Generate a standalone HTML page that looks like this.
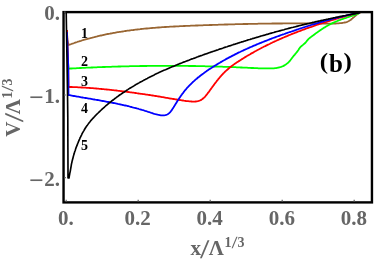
<!DOCTYPE html>
<html><head><meta charset="utf-8"><title>plot</title>
<style>html,body{margin:0;padding:0;background:#fff;}svg{display:block;will-change:transform;}</style>
</head><body>
<svg width="374" height="261" viewBox="0 0 374 261">
<rect x="0" y="0" width="374" height="261" fill="#ffffff"/>
<g fill="none" stroke-width="1.8" stroke-linejoin="round" stroke-linecap="butt">
<path d="M66.9,30.0 L67.4,40.0 L68.4,45.0 L68.5,45.0 L69.5,44.6 L70.4,44.3 L71.4,44.0 L72.3,43.6 L73.3,43.3 L74.2,43.0 L75.2,42.6 L76.1,42.3 L77.1,42.0 L78.0,41.7 L79.0,41.4 L79.9,41.1 L80.9,40.8 L81.8,40.5 L82.8,40.2 L83.7,39.9 L84.7,39.7 L85.6,39.4 L86.6,39.1 L87.6,38.8 L88.5,38.6 L89.5,38.3 L90.4,38.1 L91.4,37.8 L92.4,37.6 L93.3,37.3 L94.3,37.1 L95.3,36.8 L96.2,36.6 L97.2,36.4 L98.1,36.1 L99.1,35.9 L100.1,35.7 L101.0,35.5 L102.0,35.3 L103.0,35.0 L104.0,34.8 L104.9,34.6 L105.9,34.4 L106.9,34.2 L107.8,34.0 L108.8,33.8 L109.8,33.7 L110.8,33.5 L111.7,33.3 L112.7,33.1 L113.7,32.9 L114.7,32.8 L115.6,32.6 L116.6,32.4 L117.6,32.2 L118.6,32.1 L119.5,31.9 L120.5,31.8 L121.5,31.6 L122.5,31.5 L123.5,31.3 L124.4,31.2 L125.4,31.0 L126.4,30.9 L127.4,30.7 L128.4,30.6 L129.3,30.5 L130.3,30.3 L131.3,30.2 L132.3,30.1 L133.3,30.0 L134.3,29.8 L135.2,29.7 L136.2,29.6 L137.2,29.5 L138.2,29.4 L139.2,29.3 L140.2,29.2 L141.2,29.0 L142.2,28.9 L143.1,28.8 L144.1,28.7 L145.1,28.6 L146.1,28.5 L147.1,28.5 L148.1,28.4 L149.1,28.3 L150.1,28.2 L151.1,28.1 L152.0,28.0 L153.0,27.9 L154.0,27.8 L155.0,27.8 L156.0,27.7 L157.0,27.6 L158.0,27.5 L159.0,27.5 L160.0,27.4 L161.0,27.3 L162.0,27.2 L162.9,27.2 L163.9,27.1 L164.9,27.0 L165.9,27.0 L166.9,26.9 L167.9,26.9 L168.9,26.8 L169.9,26.7 L170.9,26.7 L171.9,26.6 L172.9,26.6 L173.9,26.5 L174.9,26.5 L175.9,26.4 L176.9,26.4 L177.9,26.3 L178.8,26.3 L179.8,26.2 L180.8,26.2 L181.8,26.1 L182.8,26.1 L183.8,26.0 L184.8,26.0 L185.8,25.9 L186.8,25.9 L187.8,25.9 L188.8,25.8 L189.8,25.8 L190.8,25.7 L191.8,25.7 L192.8,25.6 L193.8,25.6 L194.8,25.6 L195.8,25.5 L196.8,25.5 L197.7,25.5 L198.7,25.4 L199.7,25.4 L200.7,25.3 L201.7,25.3 L202.7,25.3 L203.7,25.2 L204.7,25.2 L205.7,25.2 L206.7,25.1 L207.7,25.1 L208.7,25.1 L209.7,25.0 L210.7,25.0 L211.7,25.0 L212.7,24.9 L213.6,24.9 L214.6,24.9 L215.6,24.8 L216.6,24.8 L217.6,24.8 L218.6,24.7 L219.6,24.7 L220.6,24.7 L221.6,24.6 L222.6,24.6 L223.6,24.6 L224.6,24.5 L225.6,24.5 L226.6,24.5 L227.5,24.5 L228.5,24.4 L229.5,24.4 L230.5,24.4 L231.5,24.3 L232.5,24.3 L233.5,24.3 L234.5,24.3 L235.5,24.2 L236.5,24.2 L237.5,24.2 L238.5,24.2 L239.5,24.1 L240.4,24.1 L241.4,24.1 L242.4,24.1 L243.4,24.0 L244.4,24.0 L245.4,24.0 L246.4,24.0 L247.4,24.0 L248.4,23.9 L249.4,23.9 L250.4,23.9 L251.4,23.9 L252.4,23.8 L253.3,23.8 L254.3,23.8 L255.3,23.8 L256.3,23.8 L257.3,23.8 L258.3,23.7 L259.3,23.7 L260.3,23.7 L261.3,23.7 L262.3,23.7 L263.3,23.7 L264.3,23.6 L265.3,23.6 L266.2,23.6 L267.2,23.6 L268.2,23.6 L269.2,23.6 L270.2,23.6 L271.2,23.6 L272.2,23.5 L273.2,23.5 L274.2,23.5 L275.2,23.5 L276.2,23.5 L277.2,23.5 L278.2,23.5 L279.1,23.5 L280.1,23.5 L281.1,23.5 L282.1,23.5 L283.1,23.4 L284.1,23.4 L285.1,23.4 L286.1,23.4 L287.1,23.4 L288.1,23.4 L289.1,23.4 L290.1,23.4 L291.1,23.4 L292.1,23.4 L293.1,23.4 L294.0,23.4 L295.0,23.4 L296.0,23.4 L297.0,23.4 L298.0,23.4 L299.0,23.4 L300.0,23.4 L301.0,23.4 L302.0,23.4 L303.0,23.4 L304.0,23.4 L305.0,23.5 L306.0,23.5 L307.0,23.5 L308.0,23.5 L309.0,23.5 L310.0,23.5 L311.0,23.5 L312.0,23.5 L313.0,23.5 L313.9,23.5 L314.9,23.5 L315.9,23.6 L316.9,23.6 L317.9,23.6 L318.9,23.6 L319.9,23.6 L320.9,23.6 L321.9,23.6 L322.9,23.7 L323.9,23.7 L324.9,23.7 L325.9,23.7 L326.9,23.7 L327.9,23.7 L328.9,23.7 L329.9,23.7 L330.9,23.7 L331.9,23.7 L332.9,23.6 L333.9,23.6 L334.9,23.6 L335.8,23.5 L336.8,23.4 L337.8,23.4 L338.8,23.3 L339.8,23.2 L340.8,23.1 L341.8,23.0 L342.8,22.8 L343.7,22.7 L344.7,22.5 L345.7,22.3 L346.6,22.1 L347.5,21.7 L348.4,21.3 L349.3,20.8 L350.1,20.3 L350.9,19.7 L351.7,19.0 L352.5,18.4 L353.2,17.7 L354.0,17.1 L354.7,16.4 L355.5,15.7 L356.2,15.1 L357.0,14.5 L357.8,13.9 L358.7,13.4 L359.6,13.0 L360.5,12.6" stroke="#996633"/>
<path d="M66.9,35.0 L67.6,55.0 L68.4,68.6 L68.6,68.7 L69.6,68.6 L70.7,68.5 L71.7,68.5 L72.7,68.4 L73.8,68.4 L74.8,68.3 L75.9,68.3 L76.9,68.2 L77.9,68.1 L79.0,68.1 L80.0,68.0 L81.0,68.0 L82.1,67.9 L83.1,67.9 L84.1,67.8 L85.2,67.8 L86.2,67.7 L87.3,67.7 L88.3,67.6 L89.3,67.6 L90.4,67.6 L91.4,67.5 L92.4,67.5 L93.5,67.4 L94.5,67.4 L95.6,67.3 L96.6,67.3 L97.6,67.2 L98.7,67.2 L99.7,67.2 L100.7,67.1 L101.8,67.1 L102.8,67.0 L103.9,67.0 L104.9,67.0 L105.9,66.9 L107.0,66.9 L108.0,66.9 L109.0,66.8 L110.1,66.8 L111.1,66.8 L112.1,66.7 L113.2,66.7 L114.2,66.7 L115.3,66.6 L116.3,66.6 L117.3,66.6 L118.4,66.5 L119.4,66.5 L120.4,66.5 L121.5,66.4 L122.5,66.4 L123.6,66.4 L124.6,66.4 L125.6,66.3 L126.7,66.3 L127.7,66.3 L128.8,66.3 L129.8,66.2 L130.8,66.2 L131.9,66.2 L132.9,66.2 L133.9,66.2 L135.0,66.1 L136.0,66.1 L137.1,66.1 L138.1,66.1 L139.1,66.1 L140.2,66.0 L141.2,66.0 L142.2,66.0 L143.3,66.0 L144.3,66.0 L145.4,66.0 L146.4,66.0 L147.4,65.9 L148.5,65.9 L149.5,65.9 L150.5,65.9 L151.6,65.9 L152.6,65.9 L153.7,65.9 L154.7,65.9 L155.7,65.9 L156.8,65.9 L157.8,65.8 L158.8,65.8 L159.9,65.8 L160.9,65.8 L162.0,65.8 L163.0,65.8 L164.0,65.8 L165.1,65.8 L166.1,65.8 L167.2,65.8 L168.2,65.8 L169.2,65.8 L170.3,65.8 L171.3,65.8 L172.3,65.8 L173.4,65.8 L174.4,65.8 L175.5,65.8 L176.5,65.8 L177.5,65.8 L178.6,65.9 L179.6,65.9 L180.6,65.9 L181.7,65.9 L182.7,65.9 L183.8,65.9 L184.8,65.9 L185.8,65.9 L186.9,65.9 L187.9,65.9 L188.9,66.0 L190.0,66.0 L191.0,66.0 L192.1,66.0 L193.1,66.0 L194.1,66.0 L195.2,66.0 L196.2,66.1 L197.2,66.1 L198.3,66.1 L199.3,66.1 L200.4,66.1 L201.4,66.2 L202.4,66.2 L203.5,66.2 L204.5,66.2 L205.5,66.3 L206.6,66.3 L207.6,66.3 L208.7,66.3 L209.7,66.4 L210.7,66.4 L211.8,66.4 L212.8,66.4 L213.8,66.5 L214.9,66.5 L215.9,66.5 L217.0,66.6 L218.0,66.6 L219.0,66.6 L220.1,66.7 L221.1,66.7 L222.1,66.7 L223.2,66.8 L224.2,66.8 L225.3,66.8 L226.3,66.9 L227.3,66.9 L228.4,66.9 L229.4,67.0 L230.4,67.0 L231.5,67.1 L232.5,67.1 L233.6,67.1 L234.6,67.2 L235.6,67.2 L236.7,67.3 L237.7,67.3 L238.7,67.4 L239.8,67.4 L240.8,67.5 L241.8,67.5 L242.9,67.6 L243.9,67.6 L245.0,67.6 L246.0,67.7 L247.0,67.7 L248.1,67.8 L249.1,67.9 L250.1,67.9 L251.2,68.0 L252.2,68.0 L253.2,68.0 L254.3,68.1 L255.3,68.1 L256.4,68.2 L257.4,68.2 L258.4,68.3 L259.5,68.3 L260.5,68.3 L261.5,68.3 L262.6,68.4 L263.6,68.4 L264.7,68.4 L265.7,68.4 L266.7,68.4 L267.8,68.4 L268.8,68.4 L269.9,68.4 L270.9,68.4 L271.9,68.4 L273.0,68.3 L274.0,68.3 L275.0,68.2 L276.1,68.1 L277.1,67.9 L278.1,67.7 L279.1,67.5 L280.1,67.2 L281.1,66.9 L282.1,66.5 L283.1,66.1 L284.0,65.6 L284.9,65.1 L285.8,64.5 L286.6,63.9 L287.4,63.3 L288.2,62.6 L288.9,61.9 L289.6,61.1 L290.3,60.3 L290.9,59.5 L291.5,58.7 L292.2,57.8 L292.8,57.0 L293.4,56.2 L294.1,55.4 L294.8,54.6 L295.4,53.8 L296.1,53.0 L296.8,52.2 L297.4,51.4 L298.0,50.5 L298.6,49.7 L299.1,48.8 L299.7,47.9 L300.4,47.1 L301.1,46.4 L301.9,45.7 L302.7,45.1 L303.5,44.4 L304.3,43.8 L305.1,43.0 L305.8,42.3 L306.4,41.5 L307.1,40.7 L307.7,39.9 L308.4,39.1 L309.2,38.4 L310.0,37.7 L310.8,37.1 L311.6,36.5 L312.4,35.9 L313.3,35.3 L314.1,34.7 L315.0,34.0 L315.8,33.4 L316.6,32.8 L317.5,32.2 L318.3,31.6 L319.2,31.0 L320.0,30.4 L320.9,29.9 L321.7,29.3 L322.6,28.7 L323.5,28.1 L324.3,27.6 L325.2,27.1 L326.1,26.5 L327.0,26.0 L327.9,25.5 L328.8,25.0 L329.8,24.5 L330.7,24.0 L331.6,23.6 L332.5,23.1 L333.5,22.6 L334.4,22.2 L335.4,21.8 L336.3,21.4 L337.3,21.0 L338.2,20.6 L339.2,20.2 L340.2,19.9 L341.1,19.5 L342.1,19.1 L343.1,18.8 L344.1,18.5 L345.1,18.1 L346.1,17.8 L347.0,17.5 L348.0,17.1 L349.0,16.8 L350.0,16.5 L351.0,16.1 L352.0,15.8 L352.9,15.5 L353.9,15.1 L354.9,14.8 L355.9,14.4 L356.8,14.0 L357.8,13.6 L358.8,13.2 L359.7,12.8" stroke="#00ff00"/>
<path d="M66.9,30.0 L67.5,45.0 L68.2,66.0 L68.5,86.9 L68.6,86.9 L69.7,87.0 L70.7,87.0 L71.8,87.0 L72.8,87.1 L73.9,87.1 L75.0,87.1 L76.0,87.2 L77.1,87.2 L78.1,87.3 L79.2,87.3 L80.2,87.4 L81.3,87.5 L82.4,87.5 L83.4,87.6 L84.5,87.6 L85.5,87.7 L86.6,87.8 L87.7,87.9 L88.7,87.9 L89.8,88.0 L90.9,88.1 L91.9,88.2 L93.0,88.2 L94.0,88.3 L95.1,88.4 L96.2,88.5 L97.2,88.6 L98.3,88.7 L99.4,88.8 L100.4,88.9 L101.5,89.0 L102.6,89.1 L103.6,89.2 L104.7,89.3 L105.8,89.4 L106.8,89.5 L107.9,89.6 L109.0,89.7 L110.0,89.8 L111.1,89.9 L112.1,90.1 L113.2,90.2 L114.3,90.3 L115.3,90.4 L116.4,90.5 L117.5,90.7 L118.5,90.8 L119.6,90.9 L120.7,91.1 L121.7,91.2 L122.8,91.3 L123.9,91.4 L124.9,91.6 L126.0,91.7 L127.1,91.9 L128.1,92.0 L129.2,92.1 L130.3,92.3 L131.3,92.4 L132.4,92.6 L133.5,92.7 L134.5,92.9 L135.6,93.0 L136.6,93.2 L137.7,93.3 L138.8,93.5 L139.8,93.6 L140.9,93.8 L141.9,93.9 L143.0,94.1 L144.1,94.2 L145.1,94.4 L146.2,94.6 L147.2,94.7 L148.3,94.9 L149.4,95.0 L150.4,95.2 L151.5,95.4 L152.5,95.5 L153.6,95.7 L154.6,95.9 L155.7,96.0 L156.7,96.2 L157.8,96.4 L158.8,96.5 L159.9,96.7 L160.9,96.9 L162.0,97.1 L163.0,97.2 L164.1,97.4 L165.1,97.6 L166.2,97.8 L167.2,97.9 L168.3,98.1 L169.3,98.3 L170.3,98.5 L171.4,98.6 L172.4,98.8 L173.5,99.0 L174.5,99.2 L175.5,99.4 L176.6,99.5 L177.6,99.7 L178.7,99.9 L179.7,100.0 L180.8,100.2 L181.8,100.4 L182.9,100.5 L183.9,100.7 L185.0,100.8 L186.0,101.0 L187.1,101.1 L188.2,101.2 L189.3,101.3 L190.4,101.4 L191.4,101.5 L192.5,101.6 L193.6,101.6 L194.7,101.6 L195.7,101.5 L196.8,101.4 L197.8,101.2 L198.8,100.9 L199.8,100.5 L200.7,100.1 L201.6,99.6 L202.5,99.0 L203.3,98.3 L204.1,97.6 L204.9,96.8 L205.6,96.0 L206.3,95.2 L206.9,94.3 L207.6,93.5 L208.2,92.6 L208.9,91.8 L209.5,90.9 L210.1,90.0 L210.8,89.2 L211.4,88.3 L212.0,87.5 L212.6,86.6 L213.3,85.7 L213.9,84.9 L214.5,84.0 L215.2,83.2 L215.8,82.3 L216.5,81.5 L217.1,80.6 L217.8,79.8 L218.5,78.9 L219.2,78.1 L219.8,77.3 L220.5,76.5 L221.3,75.7 L222.0,74.9 L222.7,74.1 L223.4,73.3 L224.2,72.6 L224.9,71.8 L225.7,71.1 L226.5,70.4 L227.3,69.7 L228.1,69.0 L228.9,68.3 L229.7,67.6 L230.5,67.0 L231.4,66.3 L232.2,65.7 L233.1,65.1 L234.0,64.4 L234.8,63.8 L235.7,63.2 L236.6,62.6 L237.5,62.0 L238.4,61.4 L239.3,60.9 L240.2,60.3 L241.1,59.7 L242.0,59.1 L242.9,58.6 L243.8,58.0 L244.7,57.4 L245.6,56.9 L246.5,56.3 L247.4,55.8 L248.4,55.2 L249.3,54.7 L250.2,54.2 L251.1,53.6 L252.0,53.1 L253.0,52.6 L253.9,52.1 L254.8,51.5 L255.8,51.0 L256.7,50.5 L257.6,50.0 L258.6,49.5 L259.5,49.0 L260.5,48.5 L261.4,48.0 L262.3,47.5 L263.3,47.0 L264.2,46.5 L265.2,46.1 L266.1,45.6 L267.1,45.1 L268.1,44.6 L269.0,44.2 L270.0,43.7 L270.9,43.2 L271.9,42.8 L272.9,42.3 L273.8,41.9 L274.8,41.4 L275.8,41.0 L276.7,40.5 L277.7,40.1 L278.7,39.7 L279.6,39.2 L280.6,38.8 L281.6,38.4 L282.6,37.9 L283.6,37.5 L284.5,37.1 L285.5,36.7 L286.5,36.3 L287.5,35.9 L288.5,35.4 L289.5,35.0 L290.5,34.6 L291.4,34.2 L292.4,33.8 L293.4,33.4 L294.4,33.1 L295.4,32.7 L296.4,32.3 L297.4,31.9 L298.4,31.5 L299.4,31.1 L300.4,30.8 L301.4,30.4 L302.4,30.0 L303.4,29.6 L304.4,29.3 L305.4,28.9 L306.4,28.5 L307.4,28.2 L308.4,27.8 L309.4,27.5 L310.4,27.1 L311.5,26.8 L312.5,26.4 L313.5,26.1 L314.5,25.7 L315.5,25.4 L316.5,25.0 L317.5,24.7 L318.5,24.4 L319.6,24.0 L320.6,23.7 L321.6,23.4 L322.6,23.0 L323.6,22.7 L324.6,22.4 L325.7,22.1 L326.7,21.8 L327.7,21.4 L328.7,21.1 L329.7,20.8 L330.8,20.5 L331.8,20.2 L332.8,19.9 L333.8,19.6 L334.8,19.3 L335.9,18.9 L336.9,18.6 L337.9,18.3 L338.9,18.0 L340.0,17.7 L341.0,17.5 L342.0,17.2 L343.0,16.9 L344.1,16.6 L345.1,16.3 L346.1,16.0 L347.1,15.7 L348.2,15.4 L349.2,15.1 L350.2,14.9 L351.2,14.6 L352.3,14.3 L353.3,14.0 L354.3,13.7 L355.3,13.5 L356.4,13.2 L357.4,12.9 L358.4,12.6 L359.4,12.4" stroke="#ff0000"/>
<path d="M66.9,32.0 L67.5,46.0 L68.3,67.0 L68.5,95.0 L68.6,95.1 L69.7,95.2 L70.7,95.4 L71.8,95.6 L72.9,95.8 L73.9,96.0 L75.0,96.2 L76.1,96.4 L77.1,96.6 L78.2,96.7 L79.3,96.9 L80.3,97.1 L81.4,97.3 L82.5,97.5 L83.5,97.7 L84.6,97.8 L85.7,98.0 L86.7,98.2 L87.8,98.4 L88.9,98.6 L90.0,98.7 L91.0,98.9 L92.1,99.1 L93.2,99.3 L94.2,99.5 L95.3,99.7 L96.4,99.8 L97.5,100.0 L98.5,100.2 L99.6,100.4 L100.7,100.6 L101.8,100.8 L102.8,101.0 L103.9,101.2 L105.0,101.4 L106.0,101.6 L107.1,101.8 L108.2,102.0 L109.3,102.2 L110.3,102.4 L111.4,102.6 L112.5,102.8 L113.5,103.0 L114.6,103.2 L115.7,103.4 L116.7,103.6 L117.8,103.9 L118.9,104.1 L119.9,104.3 L121.0,104.5 L122.1,104.8 L123.1,105.0 L124.2,105.3 L125.2,105.5 L126.3,105.7 L127.4,106.0 L128.4,106.2 L129.5,106.5 L130.5,106.8 L131.6,107.0 L132.6,107.3 L133.7,107.6 L134.7,107.8 L135.8,108.1 L136.8,108.4 L137.9,108.7 L138.9,109.0 L140.0,109.3 L141.0,109.6 L142.0,109.9 L143.1,110.2 L144.1,110.5 L145.1,110.9 L146.2,111.2 L147.2,111.5 L148.2,111.9 L149.3,112.2 L150.3,112.5 L151.3,112.9 L152.4,113.2 L153.4,113.6 L154.4,113.9 L155.5,114.2 L156.5,114.4 L157.6,114.7 L158.7,114.9 L159.8,115.1 L160.9,115.3 L162.0,115.4 L163.1,115.4 L164.1,115.4 L165.2,115.2 L166.2,114.9 L167.2,114.5 L168.1,114.0 L168.9,113.4 L169.7,112.6 L170.5,111.8 L171.1,111.0 L171.8,110.1 L172.4,109.1 L173.0,108.2 L173.6,107.3 L174.2,106.3 L174.7,105.4 L175.3,104.5 L175.9,103.6 L176.4,102.7 L177.0,101.7 L177.6,100.8 L178.2,99.9 L178.8,99.0 L179.4,98.1 L180.0,97.2 L180.6,96.3 L181.2,95.4 L181.9,94.5 L182.5,93.6 L183.2,92.8 L183.8,91.9 L184.5,91.0 L185.2,90.2 L185.9,89.4 L186.6,88.5 L187.3,87.7 L188.1,86.9 L188.8,86.1 L189.5,85.4 L190.3,84.6 L191.1,83.8 L191.8,83.1 L192.6,82.3 L193.4,81.6 L194.2,80.9 L195.0,80.1 L195.8,79.4 L196.7,78.7 L197.5,78.0 L198.3,77.3 L199.2,76.7 L200.0,76.0 L200.9,75.3 L201.7,74.7 L202.6,74.0 L203.5,73.4 L204.4,72.7 L205.2,72.1 L206.1,71.5 L207.0,70.8 L207.9,70.2 L208.8,69.6 L209.7,69.0 L210.6,68.4 L211.6,67.8 L212.5,67.2 L213.4,66.6 L214.3,66.1 L215.2,65.5 L216.2,64.9 L217.1,64.4 L218.0,63.8 L218.9,63.2 L219.9,62.7 L220.8,62.1 L221.8,61.6 L222.7,61.0 L223.6,60.5 L224.6,60.0 L225.5,59.4 L226.5,58.9 L227.4,58.4 L228.4,57.9 L229.3,57.4 L230.3,56.9 L231.3,56.4 L232.2,55.9 L233.2,55.4 L234.2,54.9 L235.1,54.4 L236.1,53.9 L237.1,53.4 L238.0,52.9 L239.0,52.4 L240.0,52.0 L241.0,51.5 L242.0,51.0 L242.9,50.6 L243.9,50.1 L244.9,49.7 L245.9,49.2 L246.9,48.8 L247.9,48.3 L248.9,47.9 L249.9,47.4 L250.9,47.0 L251.9,46.6 L252.9,46.1 L253.9,45.7 L254.9,45.3 L255.9,44.9 L256.9,44.4 L257.9,44.0 L258.9,43.6 L259.9,43.2 L260.9,42.8 L261.9,42.4 L262.9,42.0 L263.9,41.6 L264.9,41.2 L265.9,40.8 L267.0,40.4 L268.0,40.0 L269.0,39.6 L270.0,39.2 L271.0,38.8 L272.0,38.4 L273.1,38.0 L274.1,37.7 L275.1,37.3 L276.1,36.9 L277.2,36.5 L278.2,36.2 L279.2,35.8 L280.2,35.4 L281.2,35.0 L282.3,34.7 L283.3,34.3 L284.3,34.0 L285.4,33.6 L286.4,33.2 L287.4,32.9 L288.4,32.5 L289.5,32.2 L290.5,31.8 L291.5,31.5 L292.6,31.1 L293.6,30.8 L294.6,30.4 L295.6,30.1 L296.7,29.7 L297.7,29.4 L298.7,29.0 L299.8,28.7 L300.8,28.3 L301.8,28.0 L302.9,27.7 L303.9,27.3 L304.9,27.0 L306.0,26.7 L307.0,26.3 L308.0,26.0 L309.1,25.7 L310.1,25.4 L311.1,25.0 L312.2,24.7 L313.2,24.4 L314.2,24.1 L315.3,23.8 L316.3,23.4 L317.4,23.1 L318.4,22.8 L319.4,22.5 L320.5,22.2 L321.5,21.9 L322.6,21.6 L323.6,21.3 L324.6,21.0 L325.7,20.7 L326.7,20.4 L327.8,20.1 L328.8,19.8 L329.9,19.6 L330.9,19.3 L332.0,19.0 L333.0,18.7 L334.1,18.4 L335.1,18.2 L336.2,17.9 L337.2,17.6 L338.3,17.4 L339.3,17.1 L340.4,16.8 L341.4,16.6 L342.5,16.3 L343.6,16.1 L344.6,15.8 L345.7,15.6 L346.7,15.3 L347.8,15.1 L348.9,14.8 L349.9,14.6 L351.0,14.4 L352.1,14.1 L353.1,13.9 L354.2,13.7 L355.3,13.5 L356.3,13.2 L357.4,13.0 L358.5,12.8 L359.5,12.6" stroke="#0000ff"/>
<path d="M66.2,12.0 L66.7,42.0 L67.1,67.0 L67.5,92.0 L67.8,117.0 L67.9,148.0 L68.0,170.0 L68.0,178.0 L69.0,178.0 L69.2,176.8 L69.4,175.7 L69.6,174.5 L69.8,173.3 L70.1,172.1 L70.3,171.0 L70.5,169.8 L70.7,168.6 L70.9,167.5 L71.1,166.3 L71.3,165.1 L71.5,163.9 L71.8,162.8 L72.0,161.6 L72.3,160.5 L72.6,159.3 L72.9,158.2 L73.2,157.0 L73.5,155.9 L73.8,154.7 L74.2,153.6 L74.5,152.4 L74.9,151.3 L75.3,150.2 L75.6,149.1 L76.0,147.9 L76.4,146.8 L76.9,145.7 L77.3,144.6 L77.7,143.5 L78.2,142.4 L78.6,141.3 L79.1,140.2 L79.6,139.1 L80.0,138.0 L80.6,136.9 L81.1,135.8 L81.6,134.8 L82.1,133.7 L82.7,132.6 L83.3,131.6 L83.9,130.6 L84.5,129.5 L85.1,128.5 L85.7,127.5 L86.4,126.5 L87.1,125.6 L87.8,124.6 L88.5,123.6 L89.2,122.7 L90.0,121.8 L90.7,120.8 L91.5,119.9 L92.3,119.0 L93.1,118.1 L93.9,117.3 L94.7,116.4 L95.6,115.5 L96.4,114.7 L97.2,113.8 L98.1,113.0 L99.0,112.1 L99.8,111.3 L100.7,110.5 L101.6,109.7 L102.4,108.9 L103.3,108.1 L104.2,107.3 L105.1,106.5 L106.0,105.7 L106.9,105.0 L107.8,104.2 L108.7,103.5 L109.6,102.7 L110.6,102.0 L111.5,101.2 L112.4,100.5 L113.4,99.8 L114.3,99.0 L115.2,98.3 L116.2,97.6 L117.1,96.9 L118.1,96.2 L119.0,95.5 L120.0,94.8 L121.0,94.2 L121.9,93.5 L122.9,92.8 L123.9,92.2 L124.9,91.5 L125.9,90.9 L126.8,90.2 L127.8,89.6 L128.8,88.9 L129.8,88.3 L130.8,87.7 L131.8,87.1 L132.9,86.5 L133.9,85.9 L134.9,85.2 L135.9,84.6 L136.9,84.1 L137.9,83.5 L139.0,82.9 L140.0,82.3 L141.0,81.7 L142.1,81.2 L143.1,80.6 L144.2,80.0 L145.2,79.5 L146.3,78.9 L147.3,78.4 L148.4,77.8 L149.4,77.3 L150.5,76.7 L151.5,76.2 L152.6,75.7 L153.7,75.2 L154.7,74.6 L155.8,74.1 L156.9,73.6 L158.0,73.1 L159.0,72.6 L160.1,72.1 L161.2,71.6 L162.3,71.1 L163.4,70.6 L164.5,70.1 L165.5,69.7 L166.6,69.2 L167.7,68.7 L168.8,68.2 L169.9,67.7 L171.0,67.3 L172.1,66.8 L173.2,66.4 L174.3,65.9 L175.4,65.4 L176.5,65.0 L177.6,64.5 L178.8,64.1 L179.9,63.6 L181.0,63.2 L182.1,62.8 L183.2,62.3 L184.3,61.9 L185.4,61.5 L186.6,61.0 L187.7,60.6 L188.8,60.2 L189.9,59.7 L191.0,59.3 L192.1,58.9 L193.3,58.5 L194.4,58.1 L195.5,57.7 L196.6,57.2 L197.8,56.8 L198.9,56.4 L200.0,56.0 L201.1,55.6 L202.3,55.2 L203.4,54.8 L204.5,54.4 L205.6,54.0 L206.8,53.6 L207.9,53.2 L209.0,52.8 L210.2,52.4 L211.3,52.0 L212.4,51.6 L213.5,51.3 L214.7,50.9 L215.8,50.5 L216.9,50.1 L218.1,49.7 L219.2,49.3 L220.3,48.9 L221.4,48.6 L222.6,48.2 L223.7,47.8 L224.8,47.4 L226.0,47.0 L227.1,46.7 L228.2,46.3 L229.4,45.9 L230.5,45.6 L231.6,45.2 L232.8,44.8 L233.9,44.4 L235.0,44.1 L236.2,43.7 L237.3,43.4 L238.4,43.0 L239.6,42.6 L240.7,42.3 L241.8,41.9 L243.0,41.6 L244.1,41.2 L245.2,40.9 L246.4,40.5 L247.5,40.1 L248.6,39.8 L249.8,39.5 L250.9,39.1 L252.0,38.8 L253.2,38.4 L254.3,38.1 L255.5,37.7 L256.6,37.4 L257.7,37.1 L258.9,36.7 L260.0,36.4 L261.1,36.0 L262.3,35.7 L263.4,35.4 L264.6,35.1 L265.7,34.7 L266.8,34.4 L268.0,34.1 L269.1,33.7 L270.3,33.4 L271.4,33.1 L272.6,32.8 L273.7,32.5 L274.8,32.1 L276.0,31.8 L277.1,31.5 L278.3,31.2 L279.4,30.9 L280.6,30.6 L281.7,30.3 L282.9,30.0 L284.0,29.7 L285.2,29.3 L286.3,29.0 L287.5,28.7 L288.6,28.4 L289.8,28.1 L290.9,27.8 L292.1,27.5 L293.2,27.3 L294.4,27.0 L295.5,26.7 L296.7,26.4 L297.8,26.1 L299.0,25.8 L300.1,25.5 L301.3,25.2 L302.4,24.9 L303.6,24.7 L304.7,24.4 L305.9,24.1 L307.1,23.8 L308.2,23.5 L309.4,23.3 L310.5,23.0 L311.7,22.7 L312.8,22.4 L314.0,22.2 L315.2,21.9 L316.3,21.6 L317.5,21.4 L318.6,21.1 L319.8,20.9 L321.0,20.6 L322.1,20.3 L323.3,20.1 L324.5,19.8 L325.6,19.6 L326.8,19.3 L328.0,19.1 L329.1,18.8 L330.3,18.6 L331.5,18.3 L332.6,18.1 L333.8,17.8 L335.0,17.6 L336.1,17.3 L337.3,17.1 L338.5,16.9 L339.7,16.6 L340.8,16.4 L342.0,16.2 L343.2,15.9 L344.3,15.7 L345.5,15.5 L346.7,15.2 L347.9,15.0 L349.1,14.8 L350.2,14.6 L351.4,14.3 L352.6,14.1 L353.8,13.9 L355.0,13.7 L356.1,13.5 L357.3,13.2 L358.5,13.0 L359.7,12.8" stroke="#000000" stroke-width="1.65"/>
</g>
<rect x="63.55" y="12.1" width="308.4" height="190.3" fill="none" stroke="#000" stroke-width="2.4"/>
<g stroke="#6a6a6a" stroke-width="1.3">
<line x1="66.2" y1="199.7" x2="66.2" y2="201.6"/>
<line x1="138.2" y1="199.7" x2="138.2" y2="201.6"/>
<line x1="210.2" y1="199.7" x2="210.2" y2="201.6"/>
<line x1="282.2" y1="199.7" x2="282.2" y2="201.6"/>
<line x1="354.2" y1="199.7" x2="354.2" y2="201.6"/>
<line x1="64.2" y1="12.2" x2="65.6" y2="12.2"/>
<line x1="64.2" y1="95" x2="65.6" y2="95"/>
<line x1="64.4" y1="177.6" x2="65.9" y2="177.6"/>
</g>
<g font-family="'Liberation Serif', 'Times New Roman', serif" font-weight="bold">
<g fill="#666666" font-size="21px">
<text x="60" y="19.6" text-anchor="end">0.</text>
<text x="60" y="102.7" text-anchor="end">1.</text>
<text x="60" y="185.7" text-anchor="end">2.</text>
<text transform="translate(28.9,104.5) scale(1.23,1.1)">−</text>
<text transform="translate(28.9,187.5) scale(1.23,1.1)">−</text>
<text x="65.9" y="225.3" text-anchor="middle">0.</text>
<text x="137.5" y="225.3" text-anchor="middle">0.2</text>
<text x="209.5" y="225.3" text-anchor="middle">0.4</text>
<text x="281.8" y="225.3" text-anchor="middle">0.6</text>
<text x="353.9" y="225.3" text-anchor="middle">0.8</text>
<g transform="translate(190.5,254.6)">
<text x="0" y="0">x</text>
<text transform="translate(9.8,3.2) skewX(-4.5)" font-size="27px">/</text>
<text x="18.3" y="0">Λ</text>
<text x="33.9" y="-8" font-size="14px">1</text>
<text transform="translate(41.3,-6.5) skewX(-4.5)" font-size="17px">/</text>
<text x="46.9" y="-8" font-size="14px">3</text>
</g>
<g transform="translate(19.7,136.8) rotate(-90)">
<text x="0" y="0">V</text>
<text transform="translate(14.85,3.2) skewX(-4.5)" font-size="27px">/</text>
<text x="22.6" y="0">Λ</text>
<text x="38.2" y="-8" font-size="14px">1</text>
<text transform="translate(45.6,-6.5) skewX(-4.5)" font-size="17px">/</text>
<text x="51.2" y="-8" font-size="14px">3</text>
</g>
</g>
<g fill="#000" font-size="14px">
<text x="81" y="37.9">1</text>
<text x="81" y="66.1">2</text>
<text x="81" y="85.8">3</text>
<text x="81" y="112.5">4</text>
<text x="81" y="150">5</text>
</g>
<g font-size="25px" fill="#000"><text transform="translate(319.8,69.4) scale(1,0.885)">(</text><text x="329.1" y="71.5">b</text><text transform="translate(343.5,69.4) scale(1,0.885)">)</text></g>
</g>
</svg>
</body></html>
